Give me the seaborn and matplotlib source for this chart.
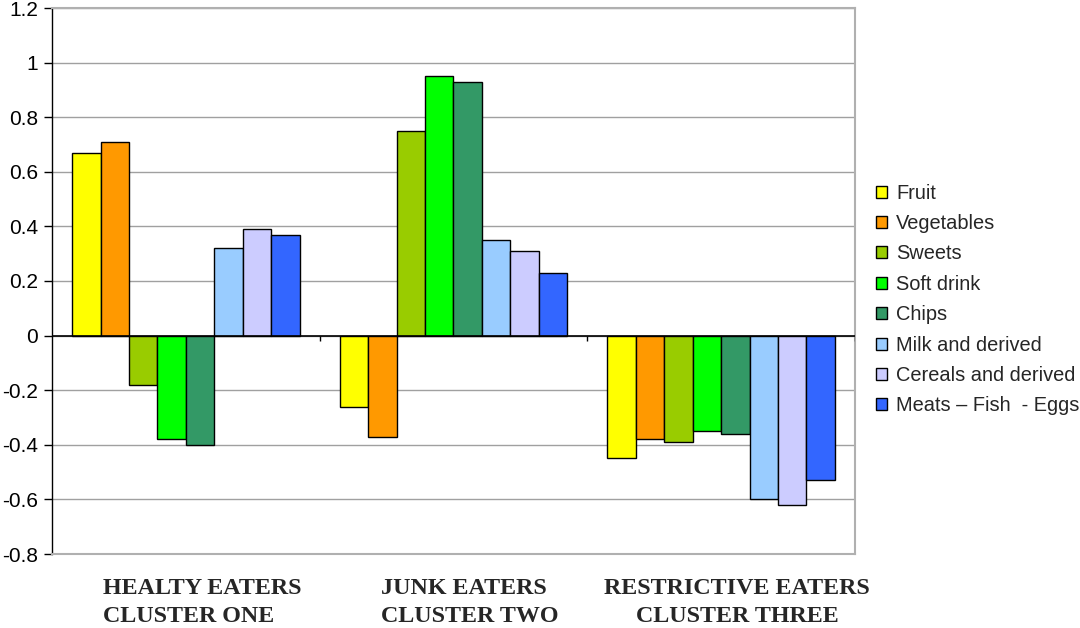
import numpy as np
import pandas as pd
import matplotlib
matplotlib.use("Agg")
import matplotlib.pyplot as plt
import matplotlib.transforms as mtransforms
import seaborn as sns
from matplotlib.ticker import FuncFormatter, MultipleLocator

# Cluster labels (x axis) and food groups (legend)
clusters = ["HEALTY EATERS\nCLUSTER ONE",
            "JUNK EATERS\nCLUSTER TWO",
            "RESTRICTIVE EATERS\nCLUSTER THREE"]
label_align = ["left", "left", "center"]
foods = ["Fruit", "Vegetables", "Sweets", "Soft drink", "Chips",
         "Milk and derived", "Cereals and derived", "Meats \u2013 Fish  - Eggs"]

# Mean standardized consumption per food group, one list per cluster
healthy = [0.67, 0.71, -0.18, -0.38, -0.40, 0.32, 0.39, 0.37]
junk = [-0.26, -0.37, 0.75, 0.95, 0.93, 0.35, 0.31, 0.23]
restrictive = [-0.45, -0.38, -0.39, -0.35, -0.36, -0.60, -0.62, -0.53]

colors = ["#FFFF00", "#FF9900", "#99CC00", "#00FF00", "#339966",
          "#99CCFF", "#CCCCFF", "#3366FF"]

df = pd.DataFrame({
    "cluster": np.repeat(clusters, len(foods)),
    "food": foods * len(clusters),
    "value": healthy + junk + restrictive,
})

sns.set_theme(style="white")
plt.rcParams["font.family"] = ["Liberation Sans", "DejaVu Sans"]

fig = plt.figure(figsize=(10.8, 6.28), dpi=100)
ax = fig.add_axes([52 / 1080, 1 - 554 / 628, 803 / 1080, 546 / 628])

sns.barplot(data=df, x="cluster", y="value", hue="food", order=clusters,
            hue_order=foods, palette=colors, width=0.85, gap=0,
            edgecolor="black", linewidth=1.0, saturation=1, ax=ax,
            errorbar=None, legend=True)

ax.set_xlim(-0.5, len(clusters) - 0.5)
ax.set_ylim(-0.8, 1.2)
ax.yaxis.set_major_locator(MultipleLocator(0.2))
ax.yaxis.set_major_formatter(FuncFormatter(lambda v, _: f"{round(v, 1):g}"))
ax.grid(axis="y", color="#A0A0A0", linewidth=1.0)
ax.set_axisbelow(True)

# Zero baseline with small ticks at the cluster boundaries
ax.axhline(0, color="black", linewidth=1.2, zorder=3)
bounds = np.arange(len(clusters)) + 0.5
ax.vlines(bounds, -0.02, 0, color="black", linewidth=1.0, zorder=3)

for side in ["top", "right", "bottom"]:
    ax.spines[side].set_color("#B0B0B0")
    ax.spines[side].set_linewidth(1.5)
ax.spines["left"].set_color("black")
ax.spines["left"].set_linewidth(1.0)

ax.tick_params(axis="y", which="major", left=True, length=6, width=1,
               color="black", labelsize=15, pad=4, labelcolor="black")
ax.tick_params(axis="x", bottom=False, pad=11)
ax.set_xlabel("")
ax.set_ylabel("")
shift = mtransforms.ScaledTranslation(16 / 100, 0, fig.dpi_scale_trans)
for lab, al in zip(ax.get_xticklabels(), label_align):
    lab.set_fontfamily("Liberation Serif")
    lab.set_fontweight("bold")
    lab.set_fontsize(17.3)
    lab.set_linespacing(1.45)
    lab.set_multialignment(al)
    lab.set_transform(lab.get_transform() + shift)

handles, labels = ax.get_legend_handles_labels()
ax.legend(handles, labels, loc="center left",
          bbox_to_anchor=(876 / 1080, 1 - 299.5 / 628),
          bbox_transform=fig.transFigure, frameon=False, fontsize=14.4,
          handlelength=0.55, handleheight=0.55, handletextpad=0.45,
          labelspacing=0.57, borderpad=0, borderaxespad=0)

fig.savefig("out.png", dpi=100, facecolor="white")
